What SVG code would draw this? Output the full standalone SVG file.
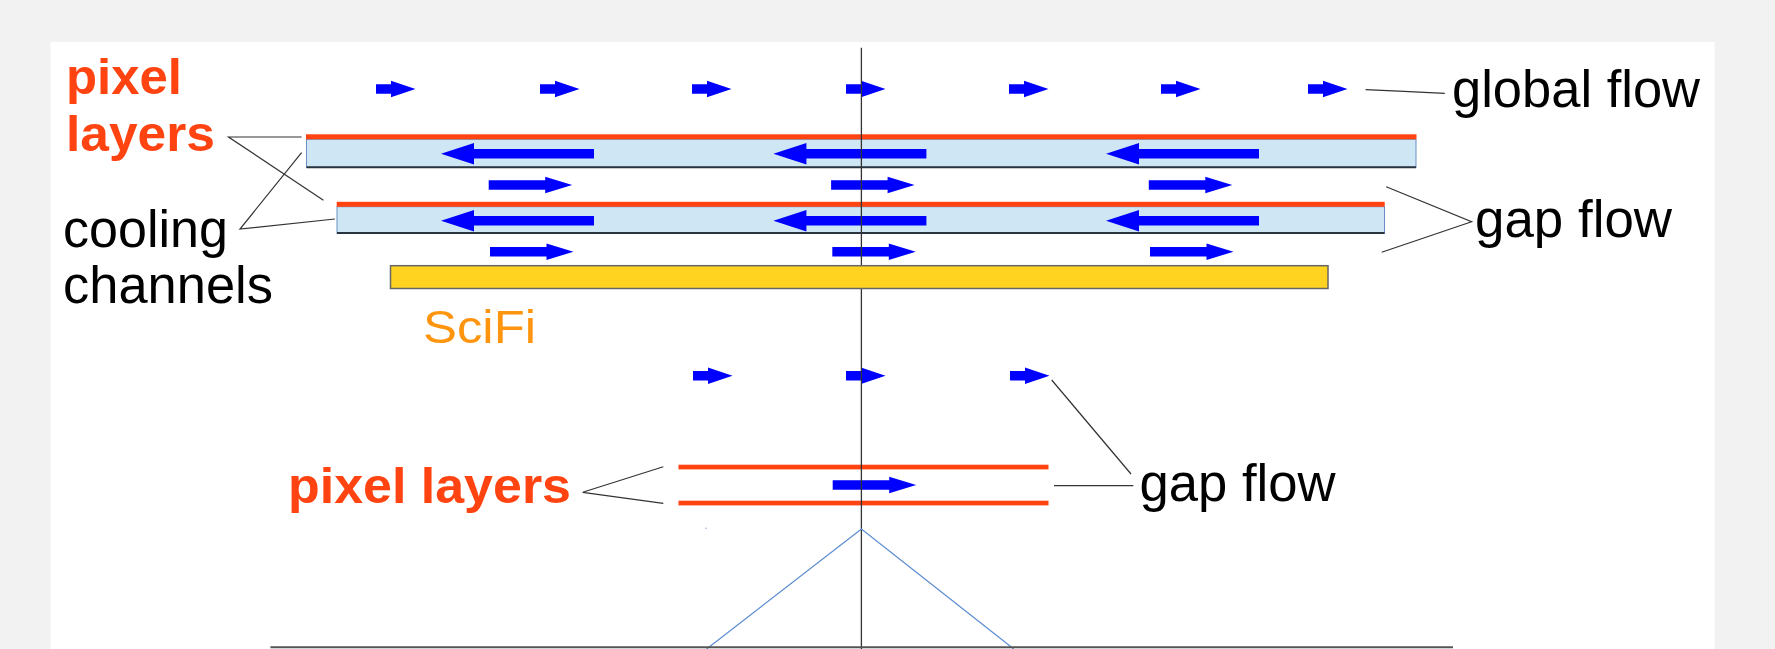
<svg xmlns="http://www.w3.org/2000/svg" xmlns:xlink="http://www.w3.org/1999/xlink" width="1775" height="649" viewBox="0 0 1775 649">
<style>
.lbl{font-family:"Liberation Sans",Arial,sans-serif;font-size:51px;fill:#000}
.red{font-family:"Liberation Sans",Arial,sans-serif;font-size:50px;font-weight:bold;fill:#ff4411}
.sci{font-family:"Liberation Sans",Arial,sans-serif;font-size:46px;fill:#ff950e}
.lead{stroke:#333;stroke-width:1.2;fill:none}
.rl{fill:#ff4411}
.ch{fill:#cfe6f5;stroke:#6b8fc4;stroke-width:1}
.chb{stroke:#2a3340;stroke-width:2}
.arr{fill:#0000ff}
</style>
<defs>
<path id="sa" class="arr" d="M0,-4.8 H15 V-8.3 L39.5,0 L15,8.3 V4.8 H0 Z"/>
<path id="ga" class="arr" d="M0,-4.8 H56.5 V-8.3 L83.5,0 L56.5,8.3 V4.8 H0 Z"/>
<path id="la" class="arr" d="M0,0 L33,-10.8 V-4.8 H153 V4.8 H33 V10.8 Z"/>
</defs>
<rect x="0" y="0" width="1775" height="649" fill="#f2f2f2"/>
<rect x="50.5" y="42" width="1664" height="607" fill="#ffffff"/>

<g id="layer1">
<rect class="ch" x="306.5" y="139.3" width="1109.5" height="28"/>
<line class="chb" x1="306.5" y1="167.3" x2="1416" y2="167.3"/>
<rect class="rl" x="306" y="134.3" width="1110.5" height="5"/>
</g>
<g id="layer2">
<rect class="ch" x="337" y="206.7" width="1047.5" height="26.6"/>
<line class="chb" x1="337" y1="233" x2="1384.5" y2="233"/>
<rect class="rl" x="336.7" y="201.8" width="1048" height="5"/>
</g>
<g id="lower-layers">
<rect class="rl" x="678.5" y="464.7" width="370" height="4.7"/>
<rect class="rl" x="678.5" y="500.7" width="370" height="4.7"/>
</g>

<g id="flow-arrows">
<use href="#sa" x="376" y="89"/>
<use href="#sa" x="540" y="89"/>
<use href="#sa" x="692" y="89"/>
<use href="#sa" x="846" y="89"/>
<use href="#sa" x="1009" y="89"/>
<use href="#sa" x="1161" y="89"/>
<use href="#sa" x="1308" y="89"/>
<use href="#la" x="441" y="153.7"/>
<use href="#la" x="773.4" y="153.7"/>
<use href="#la" x="1106" y="153.7"/>
<use href="#ga" x="488.7" y="185"/>
<use href="#ga" x="831.1" y="185"/>
<use href="#ga" x="1148.8" y="185"/>
<use href="#la" x="441" y="220.7"/>
<use href="#la" x="773.4" y="220.7"/>
<use href="#la" x="1106" y="220.7"/>
<use href="#ga" x="490" y="251.7"/>
<use href="#ga" x="832.3" y="251.7"/>
<use href="#ga" x="1150" y="251.7"/>
<use href="#sa" x="693" y="375.7"/>
<use href="#sa" x="846" y="375.7"/>
<use href="#sa" x="1010" y="375.7"/>
<use href="#ga" x="832.7" y="485"/>
</g>

<g id="axis">
<line x1="861.4" y1="47.7" x2="861.4" y2="649" stroke="#333" stroke-width="1.3"/>
<polyline points="706.6,649 861.4,529 1013.8,649" fill="none" stroke="#5b8bd0" stroke-width="1.2"/>
<line x1="270.4" y1="647.2" x2="1453" y2="647.2" stroke="#555" stroke-width="2"/>
<rect x="705.3" y="527.6" width="1.4" height="1.4" fill="#9fb8dd"/>
</g>

<g id="scifi">
<rect x="390.5" y="265.7" width="937.5" height="22.8" fill="#ffd320" stroke="#666" stroke-width="1.5"/>
<text class="sci" x="423" y="343.3" textLength="113" lengthAdjust="spacingAndGlyphs">SciFi</text>
</g>

<g id="connectors">
<polyline class="lead" points="301.6,137 228.5,137 323.4,200.3"/>
<polyline class="lead" points="301.6,152.7 240,229 334.9,219"/>
<polyline class="lead" points="1365.6,89.7 1404,91.3 1444.8,93.3"/>
<polyline class="lead" points="1386.2,186.7 1471.6,221.7 1381.7,252.3"/>
<polyline class="lead" points="663.3,466.7 582.7,492.3 663.3,503.3"/>
<line class="lead" x1="1051.7" y1="380" x2="1131" y2="474"/>
<line class="lead" x1="1054" y1="485.7" x2="1133.3" y2="485.7"/>
</g>

<g id="label-pixel-layers-top">
<text class="red" x="66" y="94.3" textLength="116" lengthAdjust="spacingAndGlyphs">pixel</text>
<text class="red" x="66" y="150.7" textLength="149" lengthAdjust="spacingAndGlyphs">layers</text>
</g>
<g id="label-cooling">
<text class="lbl" x="63" y="246.7" textLength="165" lengthAdjust="spacingAndGlyphs">cooling</text>
<text class="lbl" x="63" y="303.3" textLength="210" lengthAdjust="spacingAndGlyphs">channels</text>
</g>
<g id="label-global-flow"><text class="lbl" x="1452" y="106.7" textLength="248" lengthAdjust="spacingAndGlyphs">global flow</text></g>
<g id="label-gap-flow-top"><text class="lbl" x="1475" y="237.3" textLength="197" lengthAdjust="spacingAndGlyphs">gap flow</text></g>
<g id="label-gap-flow-bottom"><text class="lbl" x="1139.5" y="500.7" textLength="196" lengthAdjust="spacingAndGlyphs">gap flow</text></g>
<g id="label-pixel-layers-bottom"><text class="red" x="288" y="503.3" font-size="51" textLength="283" lengthAdjust="spacingAndGlyphs">pixel layers</text></g>
</svg>
